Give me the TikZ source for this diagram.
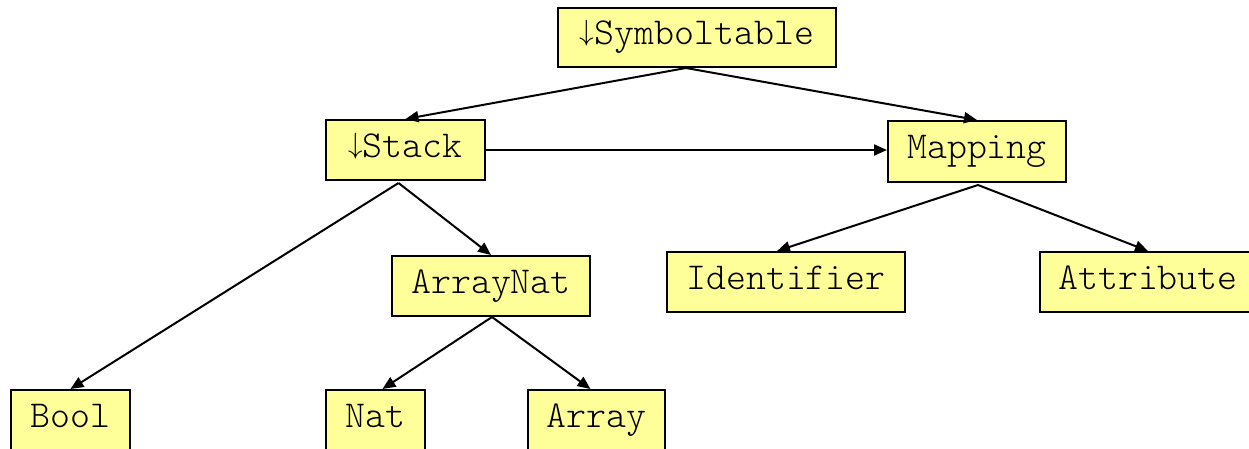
\documentclass[tikz,border=0pt]{standalone}
\usepackage{fontspec}
\setmonofont{Latin Modern Mono Light}
\usetikzlibrary{arrows.meta}
\definecolor{boxfill}{HTML}{FFFF99}
\newcommand{\dnarrow}{\raisebox{4.5pt}{\resizebox*{!}{26pt}{$\downarrow$}}}
\begin{document}
\begin{tikzpicture}[x=1pt,y=-1pt,
  box/.style={draw=black, line width=2pt, fill=boxfill, inner sep=0pt,
    font=\fontsize{38}{40}\ttfamily, text height=21pt, text depth=6pt},
  arr/.style={line width=2pt, -{Triangle[length=13pt,width=11pt]}}]
  \clip (0,0) rectangle (1249,449);
  \fill[white] (0,0) rectangle (1249,449);
  % class boxes
  \node[box, minimum width=278pt, minimum height=59pt] (sym) at (697,37.5) {\dnarrow Symboltable};
  \node[box, minimum width=159pt, minimum height=60pt] (stack) at (405.5,150) {\dnarrow Stack};
  \node[box, minimum width=178pt, minimum height=61pt] (map) at (977,151.5) {Mapping};
  \node[box, minimum width=198pt, minimum height=60pt] (arraynat) at (491,286) {ArrayNat};
  \node[box, minimum width=238pt, minimum height=60pt] (ident) at (786,282) {Identifier};
  \node[box, minimum width=216pt, minimum height=60pt] (attr) at (1148,282) {Attribute};
  \node[box, minimum width=119pt, minimum height=60pt] (bool) at (70.5,420) {Bool};
  \node[box, minimum width=99pt, minimum height=60pt] (nat) at (375.5,420) {Nat};
  \node[box, minimum width=137pt, minimum height=60pt] (array) at (596.5,420) {Array};
  % connectors
  \draw[arr] ([xshift=-11pt]sym.south) -- (stack.north);
  \draw[arr] ([xshift=-11pt]sym.south) -- (map.north);
  \draw[arr] (stack.east) -- (stack.east -| map.west);
  \draw[arr] ([xshift=-7pt,yshift=-2pt]stack.south) -- (bool.north);
  \draw[arr] ([xshift=-7pt,yshift=-2pt]stack.south) -- (arraynat.north);
  \draw[arr] ([xshift=1pt,yshift=-2pt]map.south) -- ([xshift=-9pt]ident.north);
  \draw[arr] ([xshift=1pt,yshift=-2pt]map.south) -- (attr.north);
  \draw[arr] ([xshift=1pt]arraynat.south) -- ([xshift=7pt]nat.north);
  \draw[arr] ([xshift=1pt]arraynat.south) -- ([xshift=-6pt]array.north);
\end{tikzpicture}
\end{document}
